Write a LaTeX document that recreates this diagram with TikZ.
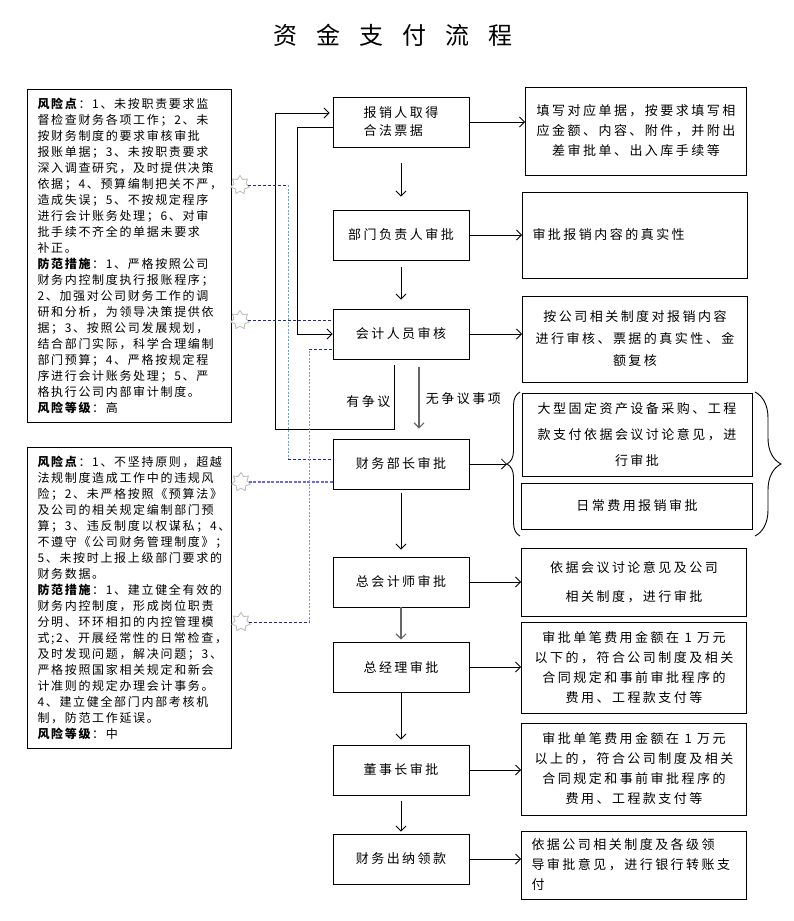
\documentclass[tikz,border=0pt]{standalone}
\usepackage{fontspec}
\setmainfont{Noto Sans CJK SC}
\newfontfamily\boxfont[LetterSpace=19]{Noto Sans CJK SC}
\newfontfamily\notefont[LetterSpace=14]{Noto Sans CJK SC}
\usepackage{tikz}
\usetikzlibrary{arrows.meta,shapes.geometric,decorations.pathreplacing}
\definecolor{navy}{HTML}{1F2A7A}
\definecolor{steel}{HTML}{6F9FC0}
\definecolor{slate}{HTML}{6B6BD0}

\begin{document}
\begin{tikzpicture}[x=1pt,y=-1pt,>={Straight Barb[length=5pt,width=10pt]},
  stage/.style={draw,line width=0.9pt,minimum width=136pt,minimum height=50pt,align=left,font=\boxfont\fontsize{13}{18}\selectfont},
  desc/.style={draw,line width=0.9pt,minimum width=225pt,align=center,font=\boxfont\fontsize{13}{20}\selectfont},
  note/.style={draw,line width=0.9pt,text width=184pt,inner xsep=10pt,align=left,font=\notefont\fontsize{12}{16}\selectfont},
  remark/.style={font=\boxfont\fontsize{13}{16}\selectfont},
  riskstar/.style={star,star points=7,star point ratio=1.55,draw=gray!55,fill=white,minimum size=19pt,inner sep=0pt,line width=0.8pt},
  link/.style={->,line width=0.8pt},
  navydash/.style={navy,line width=0.9pt,dash pattern=on 3pt off 2pt},
  steeldash/.style={steel,line width=0.8pt,dash pattern=on 2pt off 1.5pt},
  slatedash/.style={slate,line width=1.4pt,dash pattern=on 3pt off 1.5pt}]
\useasboundingbox (0,0) rectangle (793,921);

\node[font=\fontsize{24}{28}\selectfont] (t) at (393,35) {资\hspace{19pt}金\hspace{19pt}支\hspace{19pt}付\hspace{19pt}流\hspace{19pt}程};

\node[stage] (1) at (401,122) {报销人取得\\合法票据};
\node[stage] (2) at (401,235) {部门负责人审批};
\node[stage] (3) at (401,334) {会计人员审核};
\node[stage] (4) at (401,464) {财务部长审批};
\node[stage] (5) at (401,582) {总会计师审批};
\node[stage] (6) at (401,667) {总经理审批};
\node[stage] (7) at (401,770) {董事长审批};
\node[stage] (8) at (401,859) {财务出纳领款};

\node[desc,minimum width=221pt,minimum height=88pt] (11) at (636,131) {填写对应单据，按要求填写相\\应金额、内容、附件，并附出\\差审批单、出入库手续等};
\node[desc,minimum height=86pt,text width=205pt,align=left] (12) at (635,235) {审批报销内容的真实性};
\node[desc,minimum height=86pt] (13) at (635,339) {按公司相关制度对报销内容\\[2pt]进行审核、票据的真实性、金\\[2pt]额复核};
\node[desc,minimum width=230pt,minimum height=83pt] (14) at (637,435) {大型固定资产设备采购、工程\\[6pt]款支付依据会议讨论意见，进\\[6pt]行审批};
\node[desc,minimum width=231pt,minimum height=46pt] (15) at (637,506) {日常费用报销审批};
\node[desc,minimum height=68pt] (16) at (634,582) {依据会议讨论意见及公司\\[9pt]相关制度，进行审批};
\node[desc,minimum height=91pt] (17) at (634,668) {审批单笔费用金额在 1 万元\\以下的，符合公司制度及相关\\合同规定和事前审批程序的\\费用、工程款支付等};
\node[desc,minimum height=92pt] (18) at (634,769) {审批单笔费用金额在 1 万元\\以上的，符合公司制度及相关\\合同规定和事前审批程序的\\费用、工程款支付等};
\node[desc,minimum height=68pt,text width=205pt,align=left] (19) at (634,865) {依据公司相关制度及各级领\\导审批意见，进行银行转账支\\付};

\node[note,minimum height=333pt] (21) at (129.5,255.5) {\textbf{风险点}：1、未按职责要求监\\督检查财务各项工作；2、未\\按财务制度的要求审核审批\\报账单据；3、未按职责要求\\深入调查研究，及时提供决策\\依据；4、预算编制把关不严，\\造成失误；5、不按规定程序\\进行会计账务处理；6、对审\\批手续不齐全的单据未要求\\补正。\\\textbf{防范措施}：1、严格按照公司\\财务内控制度执行报账程序；\\2、加强对公司财务工作的调\\研和分析，为领导决策提供依\\据；3、按照公司发展规划，\\结合部门实际，科学合理编制\\部门预算；4、严格按规定程\\序进行会计账务处理；5、严\\格执行公司内部审计制度。\\\textbf{风险等级}：高};
\node[note,minimum height=301pt] (22) at (129.5,597.5) {\textbf{风险点}：1、不坚持原则，超越\\法规制度造成工作中的违规风\\险；2、未严格按照《预算法》\\及公司的相关规定编制部门预\\算；3、违反制度以权谋私；4、\\不遵守《公司财务管理制度》；\\5、未按时上报上级部门要求的\\财务数据。\\\textbf{防范措施}：1、建立健全有效的\\财务内控制度，形成岗位职责\\分明、环环相扣的内控管理模\\式;2、开展经常性的日常检查，\\及时发现问题，解决问题；3、\\严格按照国家相关规定和新会\\计准则的规定办理会计事务。\\4、建立健全部门内部考核机\\制，防范工作延误。\\\textbf{风险等级}：中};

\node[riskstar] (31) at (240,185) {};
\node[riskstar] (32) at (240,320) {};
\node[riskstar] (33) at (241,482) {};
\node[riskstar] (34) at (241,622) {};

\coordinate (k1) at (288,185);
\coordinate (k2) at (288,459);
\coordinate (k3) at (309,622);
\coordinate (k4) at (309,349);
\coordinate (b) at (507,464);

\draw[line width=0.9pt,decorate,decoration={brace,amplitude=13pt}] (520,536) -- (520,392);
\draw[line width=0.9pt,decorate,decoration={brace,amplitude=26pt}] (755,392) -- (755,536);

\draw[link,shorten <=16pt,shorten >=13pt] (1) -- (2);
\draw[link,shorten <=7pt,shorten >=9pt] (2) -- (3);
\draw[link,gray!80!black,line width=1.1pt,shorten <=8pt,shorten >=10pt] ([xshift=18pt]3.south) -- ([xshift=18pt]4.north) node[midway,right=3pt,remark,black] {无争议事项};
\draw[link,shorten <=4pt,shorten >=7pt] (4) -- (5);
\draw[link,gray!80!black,line width=1.1pt,shorten >=2pt] (5) -- (6);
\draw[link,shorten >=5pt] (6) -- (7);
\draw[link,shorten <=6pt,shorten >=2pt] (7) -- (8);

\draw[link] (1.east) -- (1.east -| 11.west);
\draw[link] (2.east) -- (2.east -| 12.west);
\draw[link] (3.east) -- (3.east -| 13.west);
\draw[link] (4) -- (b);
\draw[link] (5.east) -- (5.east -| 16.west);
\draw[link] (6.east) -- (6.east -| 17.west);
\draw[link] (7.east) -- (7.east -| 18.west);
\draw[link] (8.east) -- (8.east -| 19.west);

\draw[link,shorten <=6pt,shorten >=3pt] ([xshift=-7pt]3.south) -- ++(0,70) node[pos=0.6,left,remark] {有争议} -| ([xshift=-57pt,yshift=9pt]1.west) -- ([yshift=9pt]1.west);
\draw[link] ([yshift=-5pt]1.west) -| ([xshift=-35pt]3.west) -- (3.west);

\draw[navydash] (31) -- (k1);
\draw[steeldash] (k1) -- (k2);
\draw[navydash] (k2) -- ([yshift=5pt]4.west);
\draw[navydash] (32) -- ([yshift=14pt]3.west);
\draw[slatedash] (33) -- ([yshift=-18pt]4.west);
\draw[navydash] (34) -- (k3);
\draw[steeldash] (k3) -- (k4);
\draw[navydash] (k4) -- ([yshift=-15pt]3.west);
\end{tikzpicture}
\end{document}
